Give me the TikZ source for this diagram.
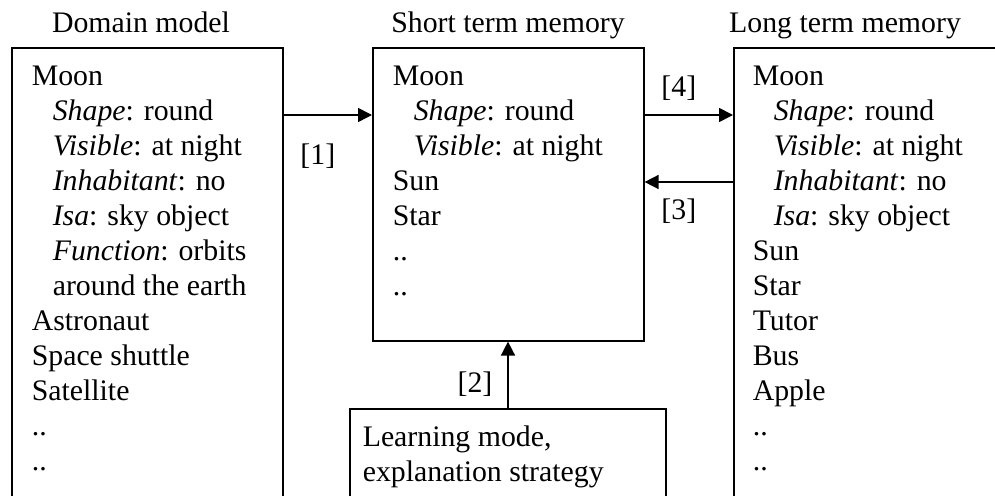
\documentclass[tikz,border=0pt]{standalone}
\usepackage{fontspec}
\setmainfont{Liberation Serif}
\usetikzlibrary{arrows.meta}

\begin{document}
\begin{tikzpicture}[x=0.5pt, y=-0.5pt, line width=.8pt, >={Triangle[length=7pt,width=7pt]},
  every node/.style={font=\fontsize{14.9}{17.5}\selectfont},
  box node/.style={draw, anchor=north west, inner sep=0pt},
  list node/.style={anchor=north west, align=left, inner sep=0pt},
  tag node/.style={inner sep=0pt}]
\useasboundingbox (0,0) rectangle (995,496);
\clip (0,0) rectangle (995,496);
% the four boxes (bottom and right sides run out of the picture)
\node[box node, minimum width=135.5pt, minimum height=240pt] (domain) at (11,47) {};
\node[box node, minimum width=135.5pt, minimum height=146.5pt] (short) at (372,47) {};
\node[box node, minimum width=140pt, minimum height=240pt] (long) at (733,47) {};
\node[box node, minimum width=158pt, minimum height=60pt] (mode) at (349,408) {};
% titles
\node[anchor=base] (domaintitle) at (141,33) {Domain model};
\node[anchor=base] (shorttitle) at (508,33) {Short term memory};
\node[anchor=base] (longtitle) at (845,33) {Long term memory};
% contents
\node[list node] (domainlist) at ([shift={(20,18)}]domain.north west) {Moon\\
  \hspace*{10.5pt}\textit{Shape}: round\\
  \hspace*{10.5pt}\textit{Visible}: at night\\
  \hspace*{10.5pt}\textit{Inhabitant}: no\\
  \hspace*{10.5pt}\textit{Isa}: sky object\\
  \hspace*{10.5pt}\textit{Function}: orbits\\
  \hspace*{10.5pt}around the earth\\
  Astronaut\\ Space shuttle\\ Satellite\\ ..\\ ..};
\node[list node] (shortlist) at ([shift={(20,18)}]short.north west) {Moon\\
  \hspace*{10.5pt}\textit{Shape}: round\\
  \hspace*{10.5pt}\textit{Visible}: at night\\
  Sun\\ Star\\ ..\\ ..};
\node[list node] (longlist) at ([shift={(19,18)}]long.north west) {Moon\\
  \hspace*{10.5pt}\textit{Shape}: round\\
  \hspace*{10.5pt}\textit{Visible}: at night\\
  \hspace*{10.5pt}\textit{Inhabitant}: no\\
  \hspace*{10.5pt}\textit{Isa}: sky object\\
  Sun\\ Star\\ Tutor\\ Bus\\ Apple\\ ..\\ ..};
\node[list node] (modelist) at ([shift={(13,17)}]mode.north west) {Learning mode,\\ explanation strategy};
% arrows
\draw[->] ([shift={(0,68)}]domain.north east) -- node[tag node, xshift=-5pt, yshift=-20.5pt] {[1]} ([shift={(0,68)}]short.north west);
\draw[->] ([shift={(0,68)}]short.north east) -- node[tag node, xshift=-5pt, yshift=13.5pt] {[4]} ([shift={(0,68)}]long.north west);
\draw[->] ([shift={(0,135)}]long.north west) -- node[tag node, xshift=-5pt, yshift=-14.5pt] {[3]} ([shift={(0,135)}]short.north east);
\draw[->] ([shift={(159,0)}]mode.north west) -- node[tag node, xshift=-16.5pt, yshift=-4.5pt] {[2]} ([shift={(136,0)}]short.south west);
\end{tikzpicture}
\end{document}
